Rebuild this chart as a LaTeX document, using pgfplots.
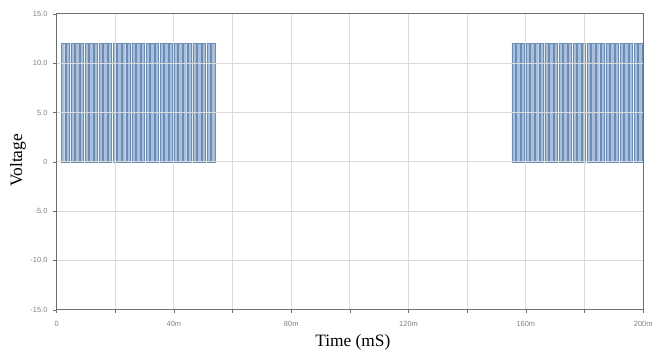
\documentclass[border=0pt]{standalone}
\usepackage{pgfplots}
\pgfplotsset{compat=1.18}
\usepackage{fontspec}
\setmainfont{Liberation Serif}
\newfontfamily\tickfont{Liberation Sans}
\usetikzlibrary{calc}
\definecolor{barfill}{HTML}{A9BFDA}
\definecolor{baredge}{HTML}{6B8DB5}
\definecolor{gridc}{HTML}{DADADA}
\definecolor{axc}{HTML}{6E6E6E}
\begin{document}
\begin{tikzpicture}
\begin{axis}[
  scale only axis,
  width=354.6pt, height=178.8pt,
  xmin=0, xmax=200, ymin=-15, ymax=15,
  xtick={0,40,80,120,160,200},
  xticklabels={0,40m,80m,120m,160m,200m},
  minor xtick={20,60,100,140,180},
  ytick={-15,-10,-5,0,5,10,15},
  yticklabels={-15.0,-10.0,-5.0,0,5.0,10.0,15.0},
  grid=both,
  major grid style={gridc, line width=0.5pt},
  minor grid style={gridc, line width=0.5pt},
  axis line style={axc, line width=0.7pt},
  tick style={axc},
  tick align=outside,
  major tick length=2pt, minor tick length=2pt,
  ticklabel style={font=\tickfont\fontsize{4.5}{5}\selectfont, text=gray},
  xtick pos=bottom, ytick pos=left,
  xticklabel style={yshift=-1.5pt},
  xlabel={Time (mS)},
  ylabel={Voltage},
  label style={font=\fontsize{10.5}{12}\selectfont},
  xlabel style={at={(axis description cs:0.505,0)}, anchor=center, yshift=-19.8pt},
  ylabel style={at={(axis description cs:0,0.505)}, anchor=center, rotate=0, yshift=23.4pt},
  axis on top,
]
\addplot[ybar, bar width=1.15, fill=barfill, draw=baredge, line width=0.2pt] coordinates {
(2.2,12)(3.8,12)(5.4,12)(7.0,12)(8.6,12)(10.2,12)(11.8,12)(13.4,12)(15.0,12)(16.6,12)
(18.2,12)(19.8,12)(21.4,12)(23.0,12)(24.6,12)(26.2,12)(27.8,12)(29.4,12)(31.0,12)(32.6,12)
(34.2,12)(35.8,12)(37.4,12)(39.0,12)(40.6,12)(42.2,12)(43.8,12)(45.4,12)(47.0,12)(48.6,12)
(50.2,12)(51.8,12)(53.4,12)
(155.8,12)(157.4,12)(159.0,12)(160.6,12)(162.2,12)(163.8,12)(165.4,12)(167.0,12)(168.6,12)(170.2,12)
(171.8,12)(173.4,12)(175.0,12)(176.6,12)(178.2,12)(179.8,12)(181.4,12)(183.0,12)(184.6,12)(186.2,12)
(187.8,12)(189.4,12)(191.0,12)(192.6,12)(194.2,12)(195.8,12)(197.4,12)(199.0,12)
};
\addplot[baredge, line width=0.5pt, mark=none] coordinates {(1.5,0)(155.1,0)};
\end{axis}
\useasboundingbox ($(current axis.south west)+(-34.2pt,-26.4pt)$) rectangle ($(current axis.north east)+(6pt,8.4pt)$);
\end{tikzpicture}
\end{document}
